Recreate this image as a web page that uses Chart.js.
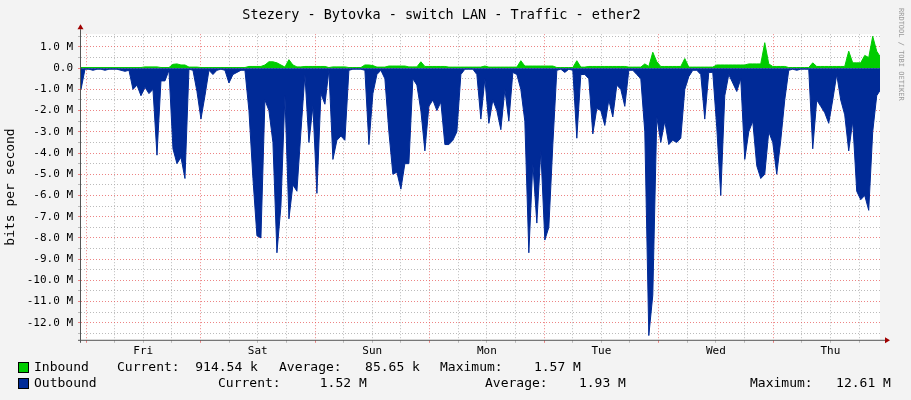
<!DOCTYPE html>
<html>
<head>
<meta charset="utf-8">
<script src="https://cdn.jsdelivr.net/npm/chart.js@4.4.1/dist/chart.umd.min.js"></script>
<style>
  body { margin: 0; background: #f3f3f3; }
  #wrap { position: relative; width: 911px; height: 400px; }
  .lg { position: absolute; font: 13px "DejaVu Sans Mono", monospace; color: #000; white-space: pre; }
  .sq { position: absolute; width: 9px; height: 9px; border: 1px solid #000; }
  #wm { position: absolute; left: 897px; top: 8px; writing-mode: vertical-rl; font: 7px "DejaVu Sans Mono", monospace; color: #999; }
</style>
</head>
<body>
<div id="wrap">
  <canvas id="traffic" width="911" height="400"></canvas>
  <div class="sq" style="left:18px;top:362px;background:#00cc00"></div>
  <div class="lg" style="left:34px;top:359px">Inbound</div>
  <div class="lg" style="left:117px;top:359px">Current:  914.54 k</div>
  <div class="lg" style="left:279px;top:359px">Average:   85.65 k</div>
  <div class="lg" style="left:440px;top:359px">Maximum:    1.57 M</div>
  <div class="sq" style="left:18px;top:378px;background:#002a97"></div>
  <div class="lg" style="left:34px;top:375px">Outbound</div>
  <div class="lg" style="left:218px;top:375px">Current:     1.52 M</div>
  <div class="lg" style="left:485px;top:375px">Average:    1.93 M</div>
  <div class="lg" style="left:750px;top:375px">Maximum:   12.61 M</div>
  <div id="wm">RRDTOOL / TOBI OETIKER</div>
</div>
<script>
// Время в часах от полуночи пятницы, шаг выборки ~50 минут
const startHour = -1.05;
const stepHour = 0.838;
const dayLabels = ['Fri', 'Sat', 'Sun', 'Mon', 'Tue', 'Wed', 'Thu'];

// Входящий трафик, Мбит/с
const inbound = [
  0.03,0.03,0.03,0.03,0.03,0.03,0.03,0.03,0.03,0.03,0.03,0.03,0.03,0.03,0.03,0.03,
  0.06,0.06,0.06,0.06, 0.03,0.03,0.03, 0.18,0.2,0.15,0.15, 0.05,0.05,0.05,
  0.03,0.03,0.03,0.03,0.03,0.03,0.03,0.03,0.03,0.03,0.03,0.03,
  0.08,0.08,0.08,0.08, 0.15, 0.3,0.3,0.25, 0.15, 0.05, 0.4, 0.15, 0.06,0.06,
  0.08,0.08,0.08,0.08,0.08,0.08, 0.03, 0.06,0.06,0.06,0.06, 0.03,0.03,0.03,0.03,
  0.15,0.15,0.12, 0.05,0.05,0.05, 0.1,0.1,0.1,0.1,0.1, 0.06,0.06,0.06,
  0.3, 0.08,0.08,0.08,0.08,0.08,0.08, 0.05,0.05,0.05,0.05,0.05,0.05,0.05,0.05,0.05,
  0.1, 0.05,0.05,0.05,0.05,0.05,0.05,0.05,0.05, 0.35,
  0.1,0.1,0.1,0.1,0.1,0.1,0.1,0.1, 0.03,0.03,0.03,0.03,0.03, 0.35, 0.05,0.05,
  0.08,0.08,0.08,0.08,0.08,0.08,0.08,0.08,0.08,0.08, 0.05,0.05,0.05,0.05, 0.2, 0.08, 0.75, 0.3,
  0.08,0.08,0.08,0.08,0.08,0.08, 0.45, 0.05,0.05,0.05,0.05,0.05,0.05,0.05,
  0.15,0.15,0.15,0.15,0.15,0.15, 0.15,0.15,0.2,0.2,0.2,0.2, 1.2, 0.2, 0.08,0.08,0.08,0.08,
  0.03,0.03,0.03,0.03,0.03,0.03, 0.25, 0.08,0.08,0.08,0.08,0.08,0.08,0.08,0.08,
  0.8, 0.25,0.25,0.25, 0.6, 0.5, 1.5, 0.8, 0.5
];

// Исходящий трафик, Мбит/с (рисуется вниз)
const outbound = [
  -1.0,-0.05,-0.05,-0.1,-0.05,-0.05,-0.1,-0.05,-0.05,-0.05,
  -0.1,-0.15,-0.1,-1.0,-0.8,-1.3,-0.9,-1.2,-1.0,-4.1,
  -0.6,-0.6,-0.1,-3.8,-4.5,-4.2,-5.2,-0.05,-0.1,-1.1,
  -2.4,-1.3,-0.1,-0.3,-0.1,-0.05,-0.1,-0.7,-0.3,-0.2,
  -0.1,-0.1,-2.0,-5.2,-7.9,-8.0,-1.5,-2.0,-3.5,-8.7,
  -6.5,-1.3,-7.1,-5.5,-5.8,-3.0,-0.3,-3.5,-1.8,-5.9,
  -1.2,-1.7,-0.1,-4.3,-3.4,-3.2,-3.4,-0.1,-0.05,-0.05,
  -0.05,-0.1,-3.6,-1.2,-0.3,-0.1,-0.5,-3.0,-5.0,-4.9,
  -5.7,-4.5,-4.5,-0.5,-0.8,-2.0,-3.9,-1.8,-1.5,-2.0,
  -1.6,-3.6,-3.6,-3.4,-3.0,-0.3,-0.05,-0.05,-0.05,-0.3,
  -2.4,-0.5,-2.6,-1.5,-2.0,-2.9,-1.0,-2.5,-0.2,-0.3,
  -1.0,-2.5,-8.7,-4.5,-7.3,-3.9,-8.1,-7.5,-3.6,-0.1,
  -0.05,-0.2,-0.05,-0.1,-3.3,-0.3,-0.3,-0.5,-3.1,-1.9,
  -2.0,-2.7,-1.5,-2.3,-0.8,-1.0,-1.8,-0.1,-0.1,-0.3,
  -0.5,-3.0,-12.6,-10.7,-2.3,-3.5,-2.5,-3.6,-3.4,-3.5,
  -3.3,-1.0,-0.4,-0.1,-0.1,-0.3,-2.4,-0.2,-0.2,-2.8,
  -6.0,-1.3,-0.3,-0.7,-1.1,-0.5,-4.3,-3.0,-2.5,-4.6,
  -5.2,-5.0,-3.0,-3.5,-5.0,-3.4,-1.5,-0.1,-0.05,-0.1,
  -0.05,-0.05,-0.05,-3.8,-1.5,-1.8,-2.1,-2.6,-1.5,-0.3,
  -1.5,-2.2,-3.9,-2.5,-5.8,-6.2,-6.0,-6.7,-3.0,-1.3,
  -1.0
];

const toPoints = arr => arr.map((v, i) => ({ x: startHour + i * stepHour, y: v }));
const mono = '"DejaVu Sans Mono", monospace';

// Белый фон области графика и стрелки осей
const plotBg = {
  id: 'plotBg',
  beforeDraw(chart) {
    const { ctx, chartArea: a } = chart;
    ctx.save();
    ctx.fillStyle = '#ffffff';
    ctx.fillRect(a.left, a.top, a.right - a.left, a.bottom - a.top);
    ctx.restore();
  },
  afterDraw(chart) {
    const { ctx, chartArea: a } = chart;
    ctx.save();
    ctx.strokeStyle = '#555';
    ctx.lineWidth = 1;
    ctx.beginPath();
    ctx.moveTo(a.left - 0.5, a.bottom + 3); ctx.lineTo(a.left - 0.5, a.top - 5);
    ctx.moveTo(a.left - 3, a.bottom + 0.5); ctx.lineTo(a.right + 5, a.bottom + 0.5);
    ctx.stroke();
    ctx.fillStyle = '#a00000';
    ctx.beginPath();
    ctx.moveTo(a.left - 3.5, a.top - 5); ctx.lineTo(a.left + 2.5, a.top - 5); ctx.lineTo(a.left - 0.5, a.top - 10);
    ctx.fill();
    ctx.beginPath();
    ctx.moveTo(a.right + 5, a.bottom - 2.5); ctx.lineTo(a.right + 5, a.bottom + 3.5); ctx.lineTo(a.right + 10, a.bottom + 0.5);
    ctx.fill();
    ctx.restore();
  }
};

new Chart(document.getElementById('traffic').getContext('2d'), {
  type: 'line',
  data: {
    datasets: [{
      label: 'Outbound',
      data: toPoints(outbound),
      borderColor: '#002a97',
      backgroundColor: '#002a97',
      borderWidth: 1,
      pointRadius: 0,
      fill: 'origin'
    }, {
      label: 'Inbound',
      data: toPoints(inbound),
      borderColor: '#00cc00',
      backgroundColor: '#00cc00',
      borderWidth: 1,
      pointRadius: 0,
      fill: 'origin'
    }]
  },
  options: {
    responsive: false,
    animation: false,
    layout: { padding: { top: 0, right: 31, bottom: 40, left: 3 } },
    plugins: {
      legend: { display: false },
      tooltip: { enabled: false },
      title: {
        display: true,
        text: 'Stezery - Bytovka - switch LAN - Traffic - ether2',
        color: '#000',
        font: { family: mono, size: 13.5, weight: 'normal' },
        padding: { top: 7, bottom: 11 }
      }
    },
    scales: {
      x: {
        type: 'linear',
        min: startHour,
        max: 166.4,
        afterBuildTicks: s => { s.ticks = []; for (let h = 0; h <= 162; h += 6) s.ticks.push({ value: h }); },
        ticks: {
          autoSkip: false,
          maxRotation: 0,
          color: '#000',
          padding: 2,
          font: { family: mono, size: 11 },
          callback: v => (v % 24 === 12 ? dayLabels[(v - 12) / 24] : '')
        },
        grid: {
          color: c => (c.tick && c.tick.value % 24 === 0 ? 'rgba(230,80,80,0.7)' : 'rgba(170,170,170,0.8)'),
          tickLength: 3,
          drawTicks: true
        },
        border: { display: false, dash: [1, 2] }
      },
      y: {
        min: -12.8,
        max: 1.6,
        afterBuildTicks: s => { s.ticks = []; for (let v = -12.5; v <= 1.5; v += 0.5) s.ticks.push({ value: v }); },
        afterFit: s => { s.width = 78; },
        ticks: {
          autoSkip: false,
          color: '#000',
          padding: 5,
          font: { family: mono, size: 11 },
          callback: v => (Number.isInteger(v) ? (v === 0 ? '0.0' : v.toFixed(1) + ' M') : '')
        },
        title: {
          display: true,
          text: 'bits per second',
          color: '#000',
          font: { family: mono, size: 13 },
          padding: { top: 0, bottom: 0 }
        },
        grid: {
          color: c => (c.tick && Number.isInteger(c.tick.value) ? 'rgba(230,80,80,0.7)' : 'rgba(170,170,170,0.8)'),
          tickLength: 3
        },
        border: { display: false, dash: [1, 2] }
      }
    }
  },
  plugins: [plotBg]
});
</script>
</body>
</html>
